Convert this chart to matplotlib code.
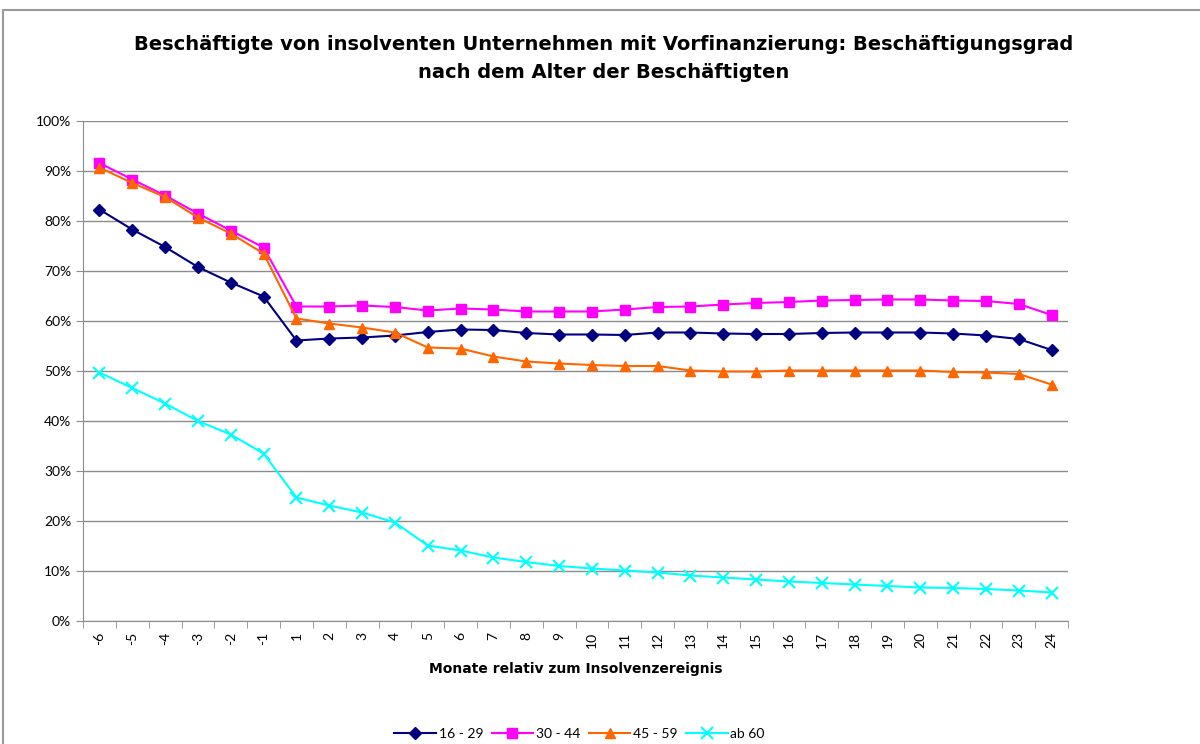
"""Beschäftigungsgrad nach Alter - Excel-style line chart."""
import matplotlib
matplotlib.use('Agg')
import matplotlib.pyplot as plt
from matplotlib.patches import Rectangle
from matplotlib.ticker import FixedLocator, PercentFormatter

plt.rcParams['font.family'] = ['Lato', 'DejaVu Sans']

months = [-6, -5, -4, -3, -2, -1] + list(range(1, 25))

age_16_29 = [82.3, 78.3, 74.8, 70.8, 67.7, 64.9,
             56.1, 56.5, 56.7, 57.1, 57.8, 58.3, 58.2, 57.6, 57.3, 57.3,
             57.2, 57.7, 57.7, 57.5, 57.4, 57.4, 57.6, 57.7, 57.7, 57.7,
             57.5, 57.1, 56.4, 54.2]
age_30_44 = [91.6, 88.3, 85.1, 81.5, 78.1, 74.7,
             62.9, 62.9, 63.1, 62.8, 62.1, 62.5, 62.3, 61.9, 61.9, 61.9,
             62.3, 62.8, 62.9, 63.3, 63.6, 63.8, 64.1, 64.2, 64.3, 64.3,
             64.1, 64.0, 63.4, 61.2]
age_45_59 = [90.7, 87.6, 84.8, 80.7, 77.5, 73.5,
             60.5, 59.5, 58.7, 57.7, 54.7, 54.5, 52.9, 51.9, 51.5, 51.2,
             51.0, 51.0, 50.1, 49.9, 49.9, 50.1, 50.1, 50.1, 50.1, 50.1,
             49.8, 49.7, 49.4, 47.3]
age_60_plus = [49.7, 46.6, 43.5, 40.0, 37.3, 33.5,
               24.7, 23.1, 21.7, 19.7, 15.1, 14.1, 12.7, 11.8, 11.0, 10.5,
               10.1, 9.7, 9.1, 8.7, 8.3, 7.9, 7.6, 7.3, 7.0, 6.7,
               6.6, 6.4, 6.1, 5.7]

series = [
    ('16 - 29', age_16_29, '#000080', 'D', 6),
    ('30 - 44', age_30_44, '#FF00FF', 's', 7),
    ('45 - 59', age_45_59, '#FF6600', '^', 7),
    ('ab 60', age_60_plus, '#00FFFF', 'x', 8),
]

fig = plt.figure(figsize=(12, 7.44), dpi=100)
# chart area border
fig.patches.append(Rectangle((3 / 1200, -0.05), 1.2, 1 - 10 / 744 + 0.05,
                             transform=fig.transFigure, fill=False,
                             edgecolor='#9a9a9a', linewidth=1.5))

ax = fig.add_axes([83 / 1200, 1 - 621 / 744, (1068 - 83) / 1200, 500 / 744])
x = list(range(len(months)))
for label, vals, color, marker, ms in series:
    ax.plot(x, vals, color=color, marker=marker, markersize=ms, linewidth=1.5,
            markeredgewidth=1.5 if marker == 'x' else 1, label=label)

ax.set_xlim(-0.5, len(months) - 0.5)
ax.set_ylim(0, 100)
ax.set_yticks(range(0, 101, 10))
ax.yaxis.set_major_formatter(PercentFormatter(decimals=0))
ax.yaxis.grid(True, color='#8c8c8c', linewidth=1)
ax.set_axisbelow(True)

ax.set_xticks(x)
ax.set_xticklabels([str(m) for m in months], rotation=90)
ax.xaxis.set_minor_locator(FixedLocator([i - 0.5 for i in range(len(months) + 1)]))
ax.tick_params(axis='x', which='major', length=0, pad=8, labelsize=10)
ax.tick_params(axis='x', which='minor', length=5, color='#8c8c8c')
ax.tick_params(axis='y', length=5, color='#8c8c8c', labelsize=10)

for side in ('top', 'right'):
    ax.spines[side].set_visible(False)
for side in ('left', 'bottom'):
    ax.spines[side].set_color('#8c8c8c')

ax.set_xlabel('Monate relativ zum Insolvenzereignis', fontsize=10,
              fontweight='bold', labelpad=10, family='DejaVu Sans')

fig.text(0.503, 1 - 45 / 744,
         'Beschäftigte von insolventen Unternehmen mit Vorfinanzierung: Beschäftigungsgrad',
         ha='center', va='center', fontsize=14, fontweight='bold',
         family='DejaVu Sans')
fig.text(0.503, 1 - 72 / 744, 'nach dem Alter der Beschäftigten',
         ha='center', va='center', fontsize=14, fontweight='bold',
         family='DejaVu Sans')

fig.legend(loc='center', bbox_to_anchor=(0.483, 1 - 734 / 744), ncol=4,
           frameon=False, fontsize=10, handlelength=3, columnspacing=0.6,
           handletextpad=0.2)

fig.savefig('out.png', dpi=100)
plt.close(fig)
